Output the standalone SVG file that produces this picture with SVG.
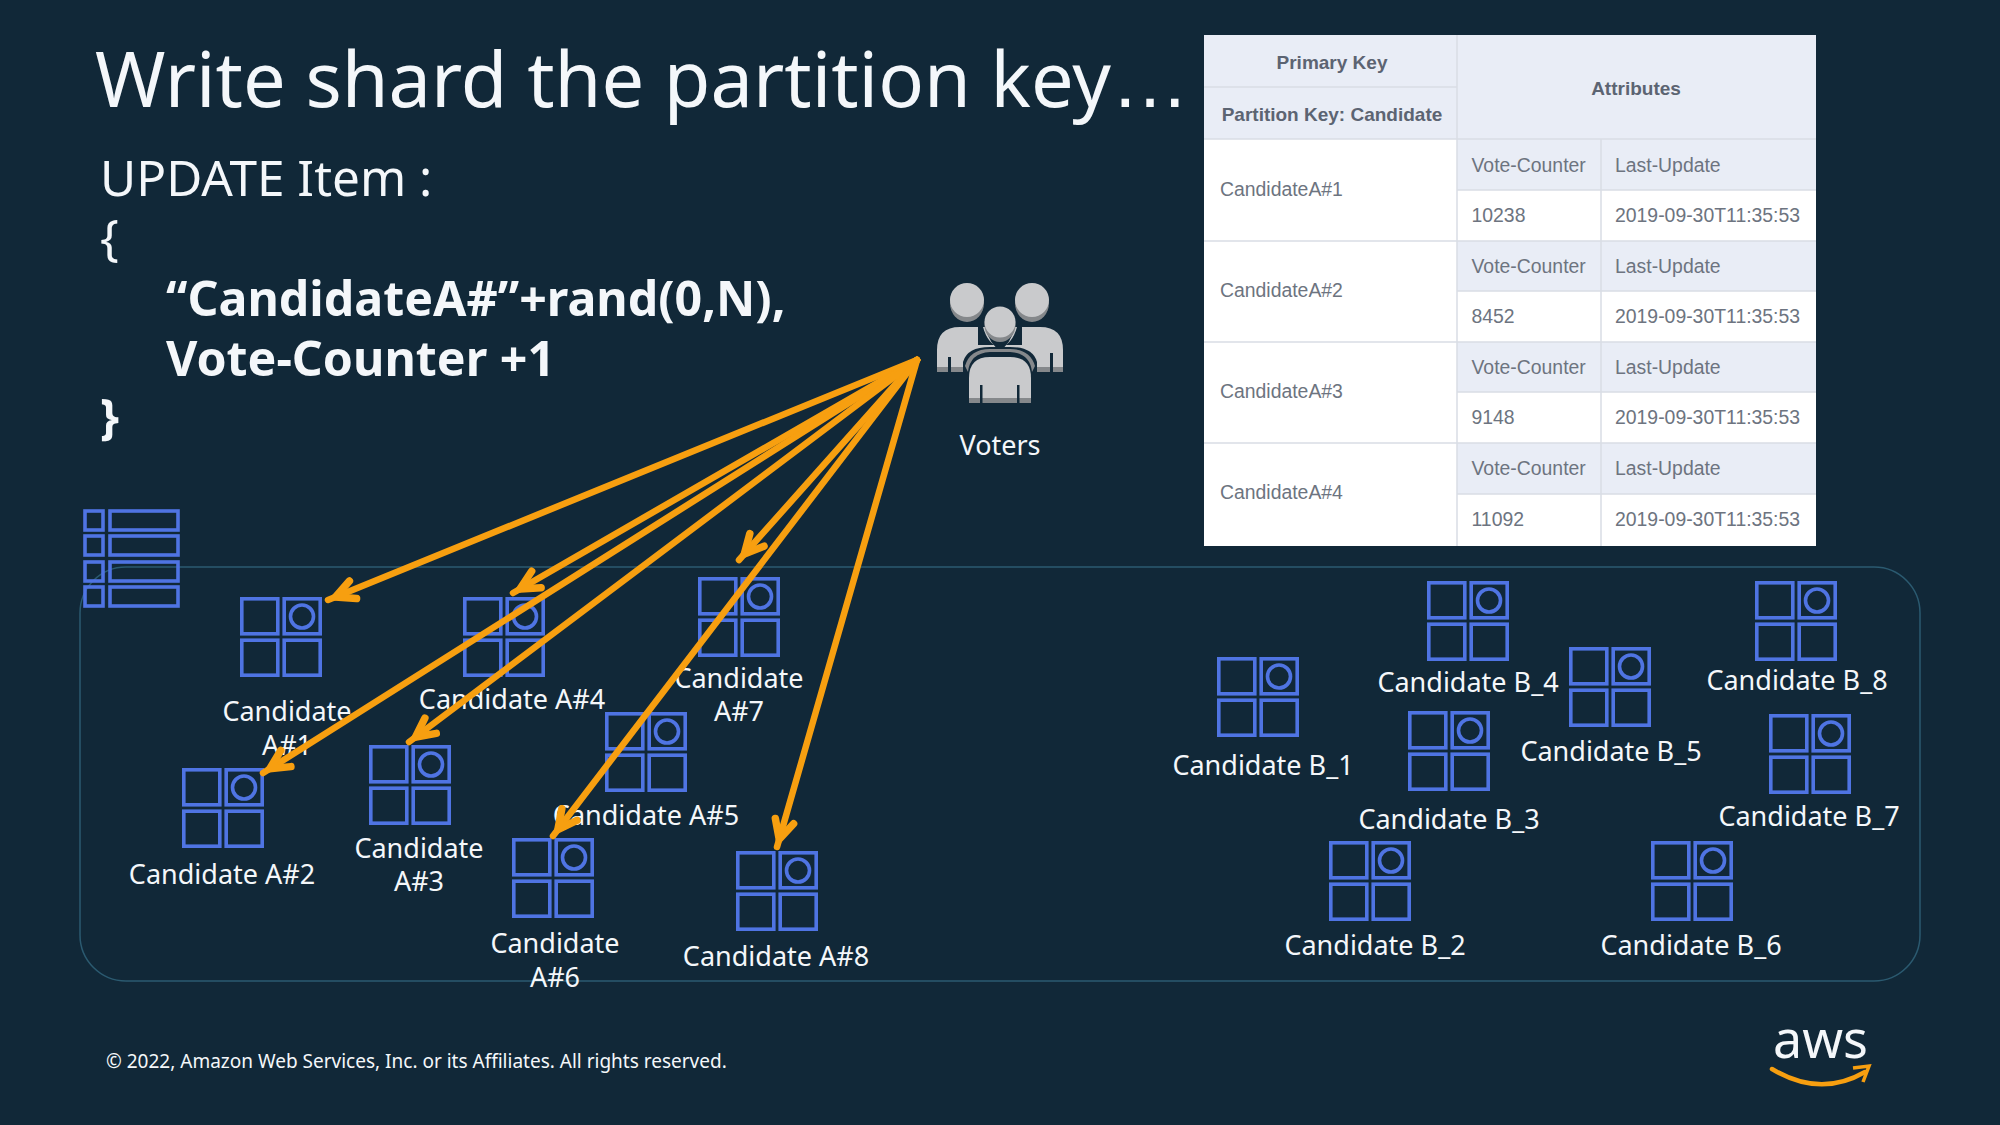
<svg xmlns="http://www.w3.org/2000/svg" xmlns:xlink="http://www.w3.org/1999/xlink" width="2000" height="1125" viewBox="0 0 2000 1125">
<style>
text{font-family:"Noto Sans","Open Sans","Liberation Sans",sans-serif;fill:#f4f7fa}
.lab{font-size:27px;text-anchor:middle}
.code{font-size:49.500px}
.codeb{font-size:48.300px;font-weight:700}
.t{font-family:"Liberation Sans",Arial,sans-serif;font-size:19.400px;fill:#6d7480}
.th{font-family:"Liberation Sans",Arial,sans-serif;font-size:19px;font-weight:700;fill:#5c6472;text-anchor:middle}
.ic rect,.ic circle,.tb rect{fill:none;stroke:#4f74e3;stroke-width:3.600}
.ar{fill:none;stroke:#f79f10;stroke-width:6.500;stroke-linecap:round;stroke-linejoin:round;marker-end:url(#h)}
.hd{fill:#e9edf6}.gl{stroke:#d9dde5;stroke-width:1.500;fill:none}
.ul{fill:#c9cacc}.us{fill:#85888b}
</style>
<defs>
<marker id="h" markerUnits="userSpaceOnUse" markerWidth="44" markerHeight="44" refX="35" refY="22" orient="auto" overflow="visible">
<path d="M8 12.500L27 22L8 31.500" fill="none" stroke="#f79f10" stroke-width="7.500" stroke-linecap="round" stroke-linejoin="miter"/>
</marker>
<g id="cell" class="ic">
<rect x="1.800" y="1.800" width="36" height="35"/><rect x="44.200" y="1.800" width="36" height="35"/>
<rect x="1.800" y="43.200" width="36" height="35"/><rect x="44.200" y="43.200" width="36" height="35"/>
<circle cx="62" cy="19.500" r="11.500"/>
</g>
</defs>
<rect width="2000" height="1125" fill="#112838"/>
<rect id="container" x="80" y="567" width="1840" height="414" rx="46" fill="none" stroke="#2b5a70" stroke-width="1.500"/>
<text x="95" y="107" font-size="75.800" id="title">Write shard the partition key<tspan font-family="Liberation Sans" font-size="78">…</tspan></text>
<g id="code">
<text x="100" y="196" class="code">UPDATE Item :</text>
<text x="100" y="255" class="code">{</text>
<text x="166" y="316" class="codeb">“CandidateA#”+rand(0,N),</text>
<text x="166" y="376" class="codeb">Vote-Counter +1</text>
<text x="100" y="434" class="codeb">}</text>
</g>
<g id="table">
<rect x="1204" y="35" width="612" height="511" fill="#fff"/>
<rect class="hd" x="1204" y="35" width="612" height="104"/>
<rect class="hd" x="1457" y="139" width="359" height="51"/>
<rect class="hd" x="1457" y="241" width="359" height="50"/>
<rect class="hd" x="1457" y="342" width="359" height="50"/>
<rect class="hd" x="1457" y="443" width="359" height="51"/>
<path class="gl" d="M1204 87H1457M1204 139H1816M1457 190H1816M1204 241H1816M1457 291H1816M1204 342H1816M1457 392H1816M1204 443H1816M1457 494H1816M1457 35V546M1601 139V546"/>
<text class="th" x="1332" y="69">Primary Key</text>
<text class="th" x="1332" y="121">Partition Key: Candidate</text>
<text class="th" x="1636" y="95">Attributes</text>
<text class="t" x="1220" y="196">CandidateA#1</text>
<text class="t" x="1220" y="297">CandidateA#2</text>
<text class="t" x="1220" y="398">CandidateA#3</text>
<text class="t" x="1220" y="499">CandidateA#4</text>
<text class="t" x="1471.500" y="172">Vote-Counter</text><text class="t" x="1615" y="172">Last-Update</text>
<text class="t" x="1471.500" y="222">10238</text><text class="t" x="1615" y="222">2019-09-30T11:35:53</text>
<text class="t" x="1471.500" y="273">Vote-Counter</text><text class="t" x="1615" y="273">Last-Update</text>
<text class="t" x="1471.500" y="323">8452</text><text class="t" x="1615" y="323">2019-09-30T11:35:53</text>
<text class="t" x="1471.500" y="374">Vote-Counter</text><text class="t" x="1615" y="374">Last-Update</text>
<text class="t" x="1471.500" y="424">9148</text><text class="t" x="1615" y="424">2019-09-30T11:35:53</text>
<text class="t" x="1471.500" y="475">Vote-Counter</text><text class="t" x="1615" y="475">Last-Update</text>
<text class="t" x="1471.500" y="526">11092</text><text class="t" x="1615" y="526">2019-09-30T11:35:53</text>
</g>
<g id="table-icon" class="tb">
<rect x="85" y="511" width="18" height="19"/><rect x="110" y="511" width="68" height="19"/>
<rect x="85" y="536" width="18" height="19"/><rect x="110" y="536" width="68" height="19"/>
<rect x="85" y="562" width="18" height="19"/><rect x="110" y="562" width="68" height="19"/>
<rect x="85" y="587" width="18" height="19"/><rect x="110" y="587" width="68" height="19"/>
</g>
<g id="voters">
<path class="us" d="M937 367H1063V372H937Z"/>
<path class="ul" d="M937 367V350Q937 327 960 327H985Q990 345 1000 350Q1010 345 1015 327H1040Q1063 327 1063 350V367Z"/>
<ellipse class="us" cx="967" cy="303" rx="17" ry="19"/><ellipse class="ul" cx="967" cy="300" rx="17" ry="17"/>
<ellipse class="us" cx="1032" cy="303" rx="17" ry="19"/><ellipse class="ul" cx="1032" cy="300" rx="17" ry="17"/>
<path d="M983 327Q988 345 1000 347Q1012 345 1017 327L1022 322L1022 345H978L978 322Z" fill="#112838"/>
<ellipse class="us" cx="1000" cy="325" rx="15.500" ry="17"/><ellipse class="ul" cx="1000" cy="322" rx="15.500" ry="15.500"/>
<path d="M998 342H1002V352H998Z" fill="#112838"/>
<path d="M963 372V362Q967 347 990 347H1010Q1033 347 1037 362V372H1032H968Z" fill="#112838"/>
<path d="M968 372Q970 353 990 352H1010Q1030 353 1032 372L1035 366Q1030 349 1010 349H990Q970 349 965 366Z" class="us"/>
<path class="ul" d="M969 398V378Q969 357 990 357H1010Q1031 357 1031 378V398Z"/>
<path class="us" d="M969 398H1031V403H969Z"/>
<path d="M948 357H951V372H948ZM1050 353H1053V372H1050ZM980 385H982.500V403H980ZM1017 385H1019.500V403H1017Z" fill="#112838"/>
<text x="1000" y="455" class="lab">Voters</text>
</g>
<g id="a1"><use href="#cell" x="240" y="597"/><text class="lab" x="287" y="721">Candidate</text><text class="lab" x="287" y="755">A#1</text></g>
<g id="a2"><use href="#cell" x="182" y="768"/><text class="lab" x="222" y="884">Candidate A#2</text></g>
<g id="a3"><use href="#cell" x="369" y="745"/><text class="lab" x="419" y="858">Candidate</text><text class="lab" x="419" y="891">A#3</text></g>
<g id="a4"><use href="#cell" x="463" y="597"/><text class="lab" x="512" y="709">Candidate A#4</text></g>
<g id="a5"><use href="#cell" x="605" y="712"/><text class="lab" x="646" y="825">Candidate A#5</text></g>
<g id="a6"><use href="#cell" x="512" y="838"/><text class="lab" x="555" y="953">Candidate</text><text class="lab" x="555" y="987">A#6</text></g>
<g id="a7"><use href="#cell" x="698" y="577"/><text class="lab" x="739" y="688">Candidate</text><text class="lab" x="739" y="721">A#7</text></g>
<g id="a8"><use href="#cell" x="736" y="851"/><text class="lab" x="776" y="966">Candidate A#8</text></g>
<g id="b1"><use href="#cell" x="1217" y="657"/><text class="lab" x="1263" y="775">Candidate B_1</text></g>
<g id="b2"><use href="#cell" x="1329" y="841"/><text class="lab" x="1375" y="955">Candidate B_2</text></g>
<g id="b3"><use href="#cell" x="1408" y="711"/><text class="lab" x="1449" y="829">Candidate B_3</text></g>
<g id="b4"><use href="#cell" x="1427" y="581"/><text class="lab" x="1468" y="692">Candidate B_4</text></g>
<g id="b5"><use href="#cell" x="1569" y="647"/><text class="lab" x="1611" y="761">Candidate B_5</text></g>
<g id="b6"><use href="#cell" x="1651" y="841"/><text class="lab" x="1691" y="955">Candidate B_6</text></g>
<g id="b7"><use href="#cell" x="1769" y="714"/><text class="lab" x="1809" y="826">Candidate B_7</text></g>
<g id="b8"><use href="#cell" x="1755" y="581"/><text class="lab" x="1797" y="690">Candidate B_8</text></g>
<g id="connectors">
<path class="ar" d="M917 360L328 600"/>
<path class="ar" d="M917 360L513 593"/>
<path class="ar" d="M917 360L739 560"/>
<path class="ar" d="M917 360L263 773"/>
<path class="ar" d="M917 360L409 742"/>
<path class="ar" d="M917 360L553 836"/>
<path class="ar" d="M917 360L777 847"/>
</g>
<text x="106" y="1068" font-size="19" id="copyright">© 2022, Amazon Web Services, Inc. or its Affiliates. All rights reserved.</text>
<g id="aws">
<text x="1773" y="1058" font-size="52">aws</text>
<path d="M1772 1069Q1820 1098 1865 1072" fill="none" stroke="#f79f10" stroke-width="4.500" stroke-linecap="round"/>
<path d="M1853 1068L1869 1066L1863 1082" fill="none" stroke="#f79f10" stroke-width="3.500"/>
</g>
</svg>
